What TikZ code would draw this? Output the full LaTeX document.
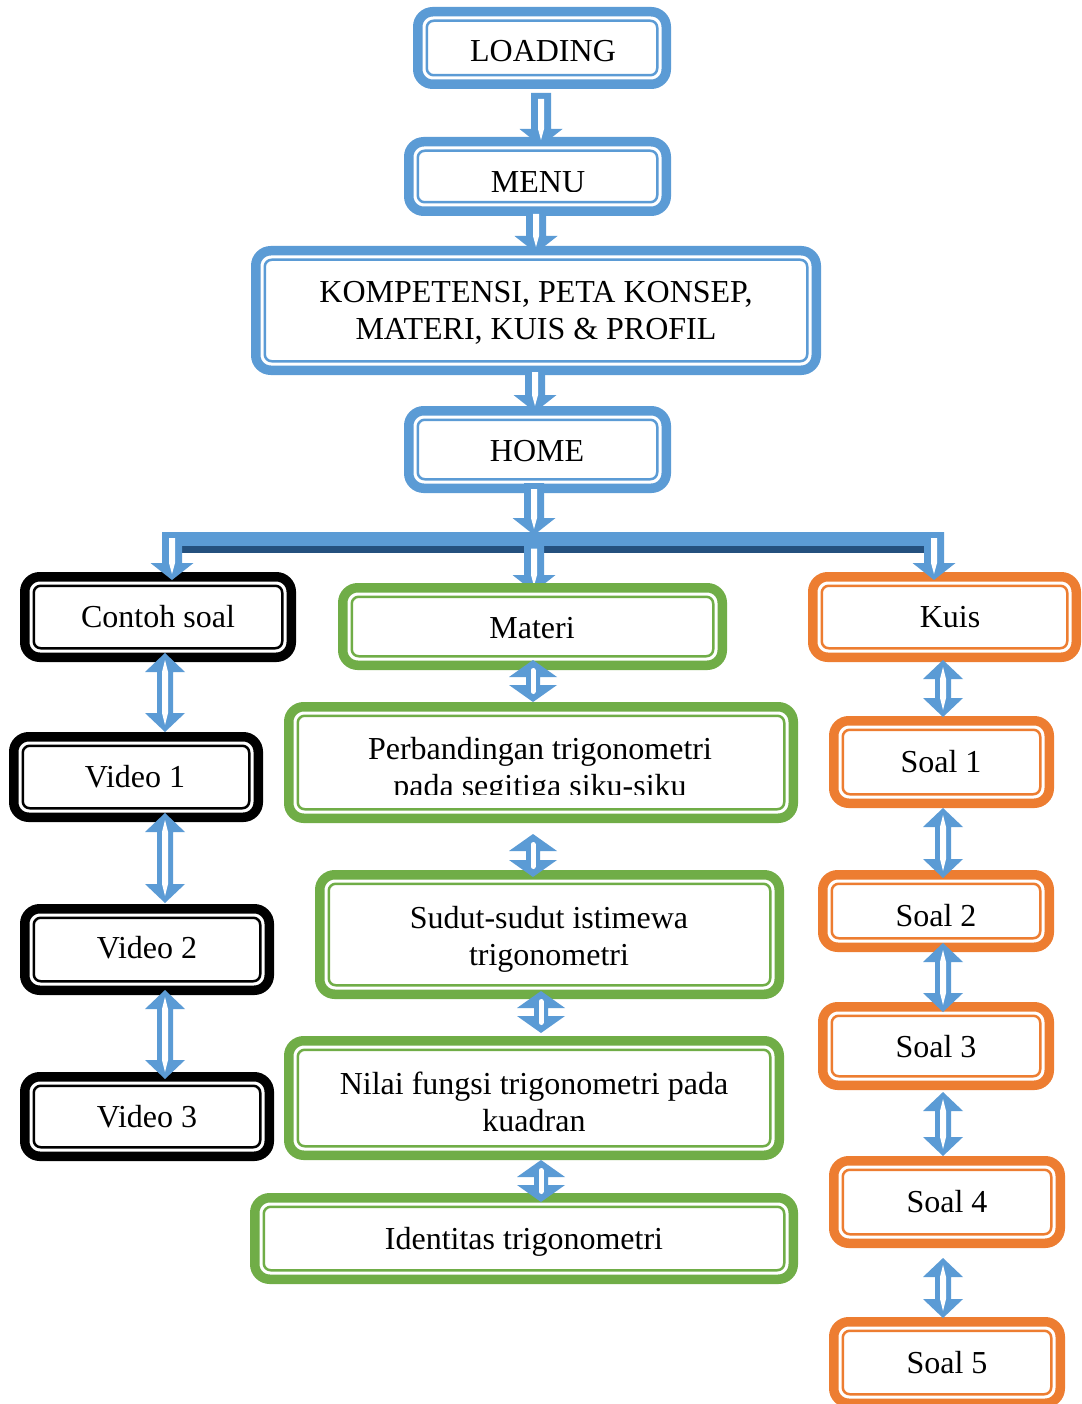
\documentclass[tikz,border=0pt]{standalone}
\usepackage{fontspec}
\setmainfont{Liberation Serif}
\usetikzlibrary{calc}

\definecolor{accblue}{HTML}{5B9BD5}
\definecolor{accgreen}{HTML}{70AD47}
\definecolor{accorange}{HTML}{ED7D31}
\definecolor{barlight}{HTML}{A9C9EA}
\definecolor{bardark}{HTML}{24507E}

\tikzset{
  frame/.style={draw=#1, line width=9.5pt, rounded corners=15pt, fill=white,
                inner sep=0pt, outer sep=4.75pt},
  innerframe/.style={draw=#1, line width=2.5pt, rounded corners=7pt},
  boxtext/.style={font=\fontsize{32}{37}\selectfont, inner sep=0pt, anchor=base},
}

% rounded box with a thick outer rule and a thin inner rule
% #1 name, #2 colour, #3 #4 centre, #5 #6 outer width / height
\newcommand\flowbox[6]{%
  \node[frame=#2, minimum width={#5pt-9.5pt}, minimum height={#6pt-9.5pt}] (#1) at (#3,#4) {};
  \draw[innerframe=#2] ([shift={(13.75pt,-13.75pt)}]#1.north west)
     rectangle ([shift={(-13.75pt,13.75pt)}]#1.south east);
}

% single block arrow pointing down
% #1 x, #2 start anchor, #3 its shift, #4 end anchor, #5 its shift
\newcommand\dnarrow[5]{%
  \fill[accblue] let \p1=([yshift=#3pt]#2), \p2=([yshift=#5pt]#4) in
    ({#1pt-10pt},\y1) -- ({#1pt-10pt},\y2+17pt) -- ({#1pt-21.5pt},\y2+17pt)
    -- (#1pt,\y2) -- ({#1pt+21.5pt},\y2+17pt) -- ({#1pt+10pt},\y2+17pt)
    -- ({#1pt+10pt},\y1) -- cycle;
  \fill[white] let \p1=([yshift=#3pt]#2), \p2=([yshift=#5pt]#4) in
    ({#1pt-3pt},\y1-6pt) -- ({#1pt-3pt},\y2+17pt) -- (#1pt,\y2+6pt)
    -- ({#1pt+3pt},\y2+17pt) -- ({#1pt+3pt},\y1-6pt) -- cycle;
}

% slender double block arrow (side columns)
\newcommand\dblarrow[5]{%
  \fill[accblue] let \p1=([yshift=#3pt]#2), \p2=([yshift=#5pt]#4) in
    (#1pt,\y1) -- ({#1pt+20pt},\y1-19pt) -- ({#1pt+8pt},\y1-19pt)
    -- ({#1pt+8pt},\y2+19pt) -- ({#1pt+20pt},\y2+19pt) -- (#1pt,\y2)
    -- ({#1pt-20pt},\y2+19pt) -- ({#1pt-8pt},\y2+19pt)
    -- ({#1pt-8pt},\y1-19pt) -- ({#1pt-20pt},\y1-19pt) -- cycle;
  \fill[white] let \p1=([yshift=#3pt]#2), \p2=([yshift=#5pt]#4) in
    (#1pt,\y1-7pt) -- ({#1pt+3pt},\y1-19pt) -- ({#1pt+3pt},\y2+19pt)
    -- (#1pt,\y2+7pt) -- ({#1pt-3pt},\y2+19pt) -- ({#1pt-3pt},\y1-19pt) -- cycle;
}

% short, wide double block arrow (middle column)
\newcommand\shortarrow[5]{%
  \fill[accblue] let \p1=([yshift=#3pt]#2), \p2=([yshift=#5pt]#4) in
    (#1pt,\y1) -- ({#1pt+24pt},\y1-17pt) -- ({#1pt+7pt},\y1-17pt)
    -- ({#1pt+7pt},\y2+17pt) -- ({#1pt+24pt},\y2+17pt) -- (#1pt,\y2)
    -- ({#1pt-24pt},\y2+17pt) -- ({#1pt-7pt},\y2+17pt)
    -- ({#1pt-7pt},\y1-17pt) -- ({#1pt-24pt},\y1-17pt) -- cycle;
  \draw[white, line width=5pt, line cap=round]
    let \p1=([yshift=#3pt]#2), \p2=([yshift=#5pt]#4) in
    (#1pt,\y1-10.5pt) -- (#1pt,\y2+10.5pt);
}

\begin{document}
\begin{tikzpicture}[x=1pt, y=-1pt]
\fill[white] (0,0) rectangle (1081,1404);
\useasboundingbox (0,0) rectangle (1081,1404);

% distribution bar
\coordinate (barL) at (178,542.5);
\coordinate (barM) at (534,542.5);
\coordinate (barR) at (924,542.5);
\shade[top color=accblue, middle color=barlight, bottom color=accblue]
  ([yshift=10.5pt]barL) rectangle ([yshift=-3.5pt]barR);
\fill[bardark] ([yshift=-3.5pt]barL) rectangle ([yshift=-10.5pt]barR);

% the arrow into Materi lies beneath its box
\coordinate (materiTop) at (534,583);
\dnarrow{534}{barM}{0}{materiTop}{-9}

% main column
\flowbox{load}{accblue}{542}{48}{258}{82}
\flowbox{menu}{accblue}{537.5}{176.5}{267}{79}
\flowbox{komp}{accblue}{536}{310.5}{570}{129}
\flowbox{home}{accblue}{537.5}{449.5}{267}{87}

% left column
\flowbox{contoh}{black}{158}{617}{276}{90}
\flowbox{vid1}{black}{136}{777}{254}{90}
\flowbox{vid2}{black}{147}{949.5}{254}{91}
\flowbox{vid3}{black}{147}{1116.5}{254}{89}

% middle column
\flowbox{materi}{accgreen}{532.5}{626.5}{389}{87}
\flowbox{perb}{accgreen}{541}{762.5}{514}{121}
\flowbox{sudut}{accgreen}{549.5}{934.5}{469}{129}
\flowbox{nilai}{accgreen}{534}{1098}{500}{124}
\flowbox{ident}{accgreen}{524}{1238.5}{548}{91}

% right column
\flowbox{kuis}{accorange}{944.5}{617}{273}{90}
\flowbox{soal1}{accorange}{941.5}{762}{225}{92}
\flowbox{soal2}{accorange}{936}{911}{236}{82}
\flowbox{soal3}{accorange}{936}{1046}{236}{88}
\flowbox{soal4}{accorange}{947}{1202}{236}{92}
\flowbox{soal5}{accorange}{947}{1362.5}{236}{91}

% labels
\node[boxtext] (loadT) at (543,62) {LOADING};
\begin{scope}
  \clip (menu.north west) rectangle (menu.east |- 0,192);
  \node[boxtext] (menuT) at (538,193) {MENU};
\end{scope}
\node[boxtext] (kompT) at (536,302)
  {\begin{tabular}[t]{@{}c@{}}KOMPETENSI, PETA KONSEP,\\ MATERI, KUIS \& PROFIL\end{tabular}};
\node[boxtext] (homeT) at (537,461) {HOME};
\node[boxtext] (contohT) at (158,627) {Contoh soal};
\node[boxtext] (vid1T) at (135,787) {Video 1};
\node[boxtext] (vid2T) at (147,958) {Video 2};
\node[boxtext] (vid3T) at (147,1127) {Video 3};
\node[boxtext] (materiT) at (532,638) {Materi};
\begin{scope}
  \clip (perb.north west) rectangle (perb.east |- 0,794);
  \node[boxtext] (perbT) at (540,759)
    {\begin{tabular}[t]{@{}c@{}}Perbandingan trigonometri\\ pada segitiga siku-siku\end{tabular}};
\end{scope}
\node[boxtext] (sudutT) at (549,928)
  {\begin{tabular}[t]{@{}c@{}}Sudut-sudut istimewa\\ trigonometri\end{tabular}};
\node[boxtext] (nilaiT) at (534,1094)
  {\begin{tabular}[t]{@{}c@{}}Nilai fungsi trigonometri pada\\ kuadran\end{tabular}};
\node[boxtext] (identT) at (524,1249) {Identitas trigonometri};
\node[boxtext] (kuisT) at (950,627) {Kuis};
\node[boxtext] (soal1T) at (941,772) {Soal 1};
\node[boxtext] (soal2T) at (936,926) {Soal 2};
\node[boxtext] (soal3T) at (936,1057) {Soal 3};
\node[boxtext] (soal4T) at (947,1212) {Soal 4};
\node[boxtext] (soal5T) at (947,1373) {Soal 5};

% main flow
\dnarrow{541}{load.south}{-4}{menu.north}{-9}
\dnarrow{536}{menu.south}{8}{komp.north}{-7}
\dnarrow{535}{komp.south}{9}{home.north}{-6}
\dnarrow{534}{home.south}{10}{barM}{7.5}
\dnarrow{172}{barL}{10.5}{contoh.north}{-8}
\dnarrow{934}{barR}{10.5}{kuis.north}{-8}

% left column links
\dblarrow{165}{contoh.south}{9}{vid1.north}{0}
\dblarrow{165}{vid1.south}{9}{vid2.north}{1}
\dblarrow{165}{vid2.south}{5}{vid3.north}{-7}

% middle column links
\shortarrow{533}{materi.south}{10}{perb.north}{0}
\shortarrow{533}{perb.south}{-11}{sudut.north}{-7}
\shortarrow{541}{sudut.south}{8}{nilai.north}{3}
\shortarrow{541}{nilai.south}{0}{ident.north}{-9}

% right column links
\dblarrow{943}{kuis.south}{2}{soal1.north}{-1}
\dblarrow{943}{soal1.south}{0}{soal2.north}{-8}
\dblarrow{943}{soal2.south}{9}{soal3.north}{-10}
\dblarrow{943}{soal3.south}{-2}{soal4.north}{0}
\dblarrow{943}{soal4.south}{-10}{soal5.north}{-1}
\end{tikzpicture}
\end{document}
